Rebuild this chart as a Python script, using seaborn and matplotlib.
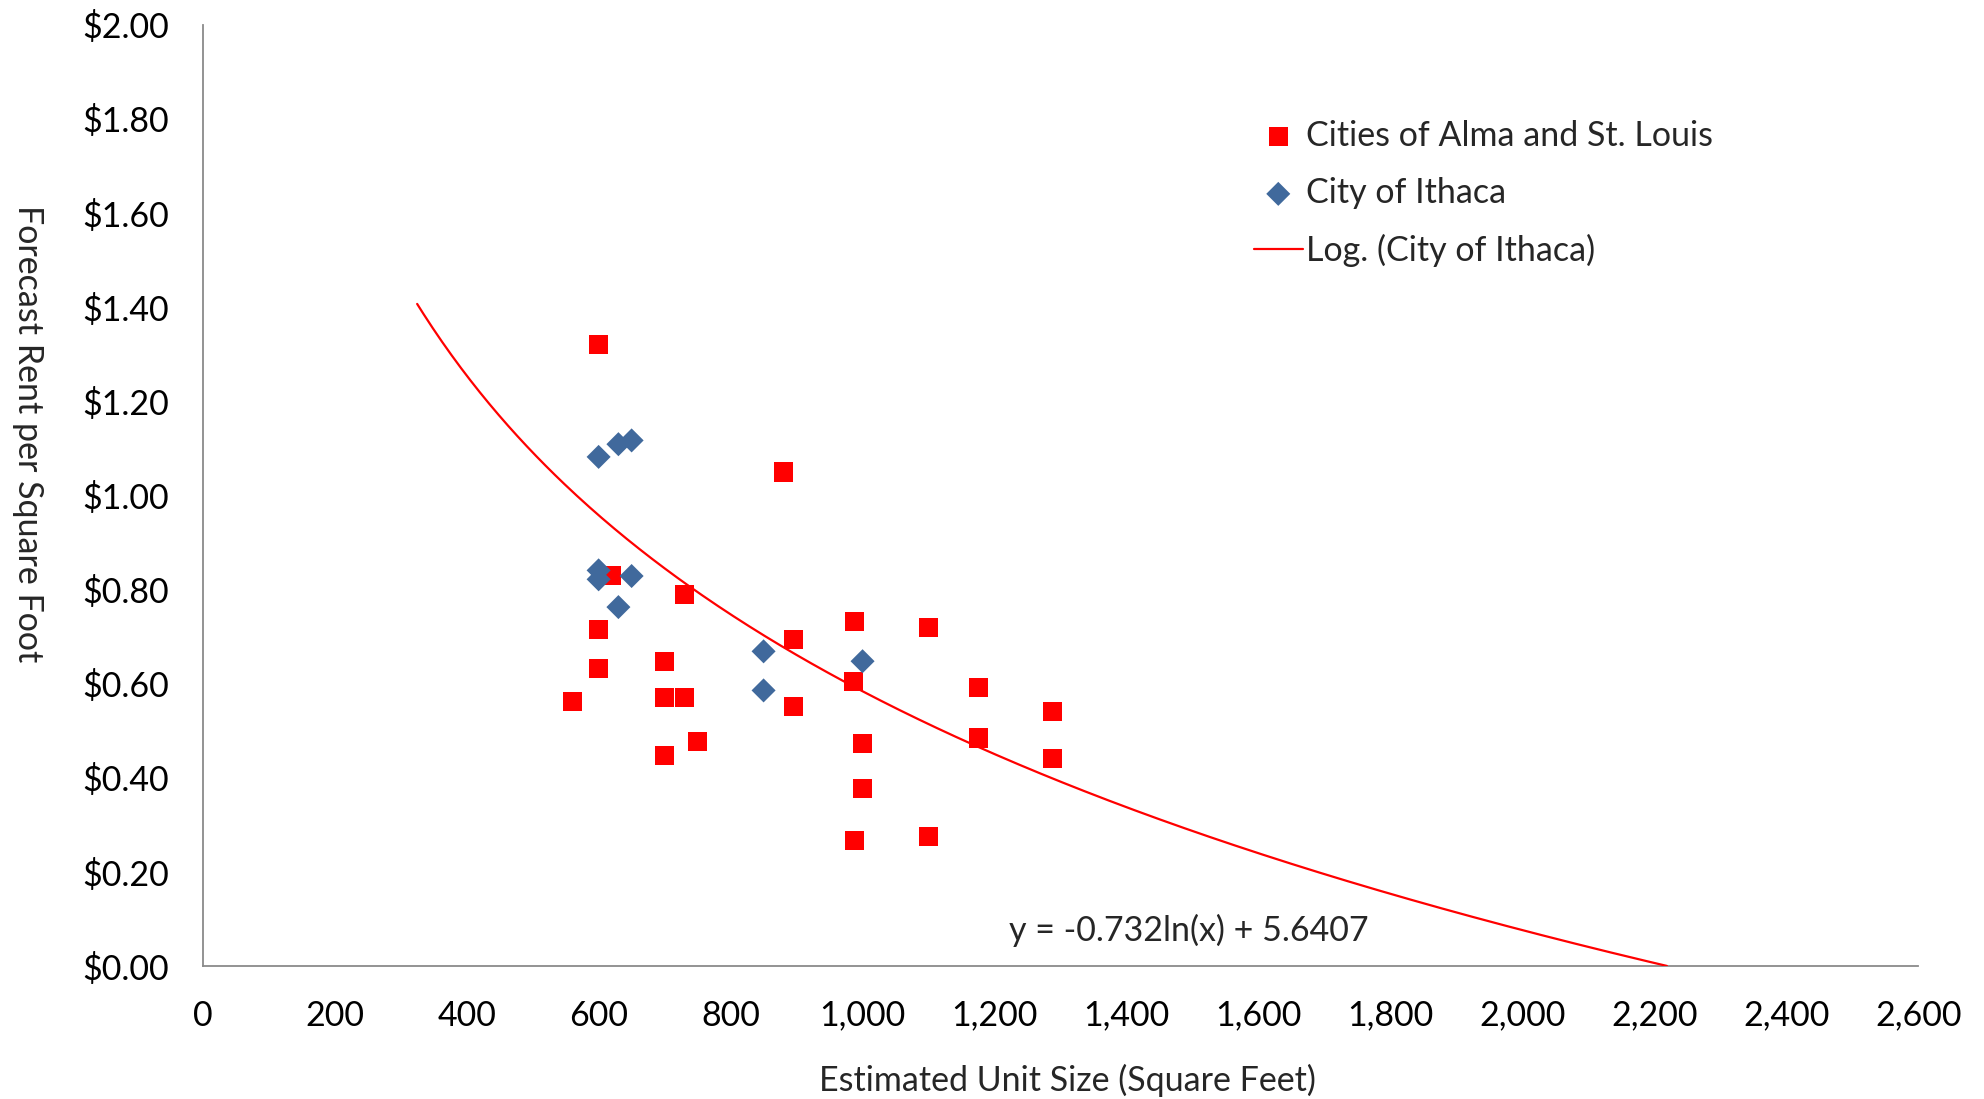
import numpy as np
import pandas as pd
import matplotlib
matplotlib.use("Agg")
import matplotlib.pyplot as plt
from matplotlib.ticker import FuncFormatter, MultipleLocator
import seaborn as sns

# ---- data ----
alma_size = [600, 880, 620, 730, 600, 600, 560, 700, 700, 730, 750, 700,
             895, 895, 988, 986, 1000, 1000, 988, 1100, 1100, 1176, 1176, 1288, 1288]
alma_rent = [1.32, 1.05, 0.83, 0.79, 0.715, 0.632, 0.562, 0.648, 0.571, 0.571, 0.477, 0.448,
             0.695, 0.551, 0.733, 0.605, 0.474, 0.378, 0.268, 0.720, 0.275, 0.593, 0.485, 0.542, 0.442]

ithaca_size = [600, 630, 650, 600, 600, 650, 630, 850, 850, 1000]
ithaca_rent = [1.082, 1.109, 1.117, 0.841, 0.822, 0.829, 0.763, 0.669, 0.586, 0.648]

trend_slope = -0.732
trend_intercept = 5.6407
trend_x_start = 325
trend_x_end = 2219

series_names = ["Cities of Alma and St. Louis", "City of Ithaca", "Log. (City of Ithaca)"]
equation_text = "y = -0.732ln(x) + 5.6407"
x_label = "Estimated Unit Size (Square Feet)"
y_label = "Forecast Rent per Square Foot"

# ---- style ----
sns.set_style("white")
plt.rcParams["font.family"] = ["Lato", "DejaVu Sans"]
FS = 24.5
GRAY = "#8a8a8a"
RED = "#FF0000"
BLUE = "#40699C"

fig = plt.figure(figsize=(19.84, 10.99), dpi=100)
ax = fig.add_axes([0.10217, 0.12074, 0.96689 - 0.10217, 0.97752 - 0.12074])

df_a = pd.DataFrame({"size": alma_size, "rent": alma_rent})
df_i = pd.DataFrame({"size": ithaca_size, "rent": ithaca_rent})

sns.scatterplot(data=df_a, x="size", y="rent", marker="s", s=190, color=RED,
                edgecolor="none", linewidth=0, ax=ax, label=series_names[0], zorder=3)
sns.scatterplot(data=df_i, x="size", y="rent", marker="D", s=150, color=BLUE,
                edgecolor="none", linewidth=0, ax=ax, label=series_names[1], zorder=4)

tx = np.linspace(trend_x_start, trend_x_end, 400)
ty = trend_slope * np.log(tx) + trend_intercept
sns.lineplot(x=tx, y=ty, color=RED, linewidth=1.6, ax=ax, label=series_names[2],
             zorder=5, sort=False)

ax.set_xlim(0, 2600)
ax.set_ylim(0, 2.0)
ax.xaxis.set_major_locator(MultipleLocator(200))
ax.yaxis.set_major_locator(MultipleLocator(0.2))
ax.xaxis.set_major_formatter(FuncFormatter(lambda v, p: f"{v:,.0f}"))
ax.yaxis.set_major_formatter(FuncFormatter(lambda v, p: f"${v:.2f}"))

for s in ["top", "right"]:
    ax.spines[s].set_visible(False)
for s in ["left", "bottom"]:
    ax.spines[s].set_color(GRAY)
    ax.spines[s].set_linewidth(1.3)
ax.tick_params(axis="both", which="major", direction="out", length=9, width=1.3,
               color=GRAY, labelsize=FS, labelcolor="black")
ax.tick_params(axis="x", pad=15)
ax.tick_params(axis="y", pad=15)
ax.grid(False)

ax.set_xlabel("")
ax.set_ylabel("")
fig.text(1067 / 1984, 1 - 1080 / 1099, x_label, ha="center", va="center", fontsize=FS)
fig.text(28 / 1984, 1 - 434 / 1099, y_label, ha="center", va="center", rotation=-90,
         fontsize=FS)

ax.text(1495, 0.077, equation_text, ha="center", va="center", fontsize=FS)

leg = ax.legend(loc="upper left", bbox_to_anchor=(1240 / 1984, 1 - 106 / 1099),
                bbox_transform=fig.transFigure, frameon=False, fontsize=FS,
                handletextpad=0.1, labelspacing=0.74, handlelength=1.45, borderaxespad=0)

fig.savefig("out.png", dpi=100, facecolor="white")
